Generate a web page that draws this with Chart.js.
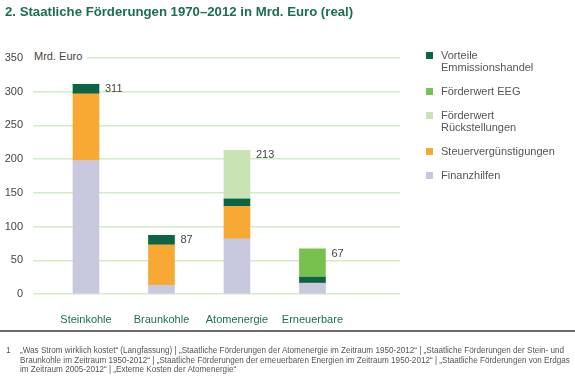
<!DOCTYPE html>
<html lang="de">
<head>
  <meta charset="UTF-8" />
  <title>Staatliche Förderungen 1970–2012</title>
  <script src="https://cdn.jsdelivr.net/npm/chart.js"></script>
  <style>
    body {
      margin: 0;
      font-family: "Liberation Sans", Arial, sans-serif;
      background: white;
    }
    #wrap {
      position: relative;
      width: 575px;
      height: 384px;
      overflow: hidden;
    }
    #wrap canvas {
      position: absolute;
      left: 0;
      top: 0;
    }
    h1 {
      position: absolute;
      left: 5px;
      top: 4px;
      margin: 0;
      font-size: 13.2px;
      font-weight: bold;
      color: #1b6e4f;
      white-space: nowrap;
    }
    .einheit {
      position: absolute;
      left: 33px;
      top: 49px;
      width: 53px;
      height: 14px;
      line-height: 14px;
      padding-left: 1px;
      background: white;
      font-size: 11px;
      color: #444;
    }
    #legende {
      position: absolute;
      left: 426px;
      top: 49px;
      font-size: 11px;
      color: #555;
    }
    .item {
      position: relative;
      padding-left: 15px;
      line-height: 12px;
      margin-bottom: 12px;
    }
    .item span {
      position: absolute;
      left: 0;
      top: 3px;
      width: 7px;
      height: 7px;
    }
    .linie {
      position: absolute;
      left: 0;
      top: 330px;
      width: 575px;
      height: 2px;
      background: #6a6a6a;
    }
    .fussnote {
      position: absolute;
      left: 6px;
      top: 346px;
      font-size: 8.15px;
      line-height: 9.7px;
      color: #555;
      white-space: nowrap;
    }
    .fussnote .nr { position: absolute; left: 0; top: 0; }
    .fussnote .txt { margin-left: 14px; }
  </style>
</head>
<body>
  <div id="wrap">
    <canvas id="grafik" width="575" height="384"></canvas>
    <h1>2. Staatliche Förderungen 1970–2012 in Mrd. Euro (real)</h1>
    <div class="einheit">Mrd. Euro</div>
    <div id="legende"></div>
    <div class="linie"></div>
    <div class="fussnote">
      <div class="nr">1</div>
      <div class="txt">„Was Strom wirklich kostet“ (Langfassung) | „Staatliche Förderungen der Atomenergie im Zeitraum 1950-2012“ | „Staatliche Förderungen der Stein- und<br>Braunkohle im Zeitraum 1950-2012“ | „Staatliche Förderungen der erneuerbaren Energien im Zeitraum 1950-2012“ | „Staatliche Förderungen von Erdgas<br>im Zeitraum 2005-2012“ | „Externe Kosten der Atomenergie“</div>
    </div>
  </div>

  <script>
    const kategorien = ["Steinkohle", "Braunkohle", "Atomenergie", "Erneuerbare"];
    const finanzhilfen = [198, 13, 82, 16];
    const steuer = [99, 60, 48, 0];
    const emissionshandel = [14, 14, 11, 9];
    const rueckstellungen = [0, 0, 72, 0];
    const eeg = [0, 0, 0, 42];
    const summen = [311, 87, 213, 67];
    const yTicks = [0, 50, 100, 150, 200, 250, 300, 350];

    const gruen = "#1e7050";

    // Datensätze von unten nach oben gestapelt
    const reihen = [
      { label: "Finanzhilfen", werte: finanzhilfen, farbe: "#c8c9df" },
      { label: "Steuervergünstigungen", werte: steuer, farbe: "#f8a933" },
      { label: "Vorteile Emmissionshandel", werte: emissionshandel, farbe: "#0b6446" },
      { label: "Förderwert Rückstellungen", werte: rueckstellungen, farbe: "#c9e3b4" },
      { label: "Förderwert EEG", werte: eeg, farbe: "#79c14e" }
    ];
    // Reihenfolge in der Legende (mit Zeilenumbruch)
    const legendeText = [
      ["Vorteile", "Emmissionshandel"],
      ["Förderwert EEG"],
      ["Förderwert", "Rückstellungen"],
      ["Steuervergünstigungen"],
      ["Finanzhilfen"]
    ];
    const legendeReihe = [2, 4, 3, 1, 0];

    const legende = document.getElementById("legende");
    legendeReihe.forEach((r, i) => {
      const div = document.createElement("div");
      div.className = "item";
      div.innerHTML = '<span style="background:' + reihen[r].farbe + '"></span>' + legendeText[i].join("<br>");
      legende.appendChild(div);
    });

    const summenPlugin = {
      id: "summen",
      afterDatasetsDraw(chart) {
        const ctx = chart.ctx;
        ctx.save();
        ctx.font = "11px 'Liberation Sans', Arial, sans-serif";
        ctx.fillStyle = "#444";
        ctx.textBaseline = "middle";
        ctx.textAlign = "left";
        summen.forEach((s, i) => {
          let oben = null;
          chart.data.datasets.forEach((ds, d) => {
            if (ds.data[i].y > 0) oben = chart.getDatasetMeta(d).data[i];
          });
          if (oben) ctx.fillText(s, oben.x + oben.width / 2 + 6, oben.y + 5);
        });
        ctx.restore();
      }
    };

    new Chart(document.getElementById("grafik"), {
      type: "bar",
      data: {
        datasets: reihen.map(r => ({
          label: r.label,
          data: r.werte.map((v, i) => ({ x: i, y: v })),
          backgroundColor: r.farbe,
          borderWidth: 0,
          barThickness: 26
        }))
      },
      options: {
        responsive: false,
        animation: false,
        layout: { padding: { top: 58, right: 175, left: 0, bottom: 0 } },
        plugins: {
          legend: { display: false },
          tooltip: { enabled: false }
        },
        scales: {
          x: {
            type: "linear",
            stacked: true,
            offset: false,
            min: -0.702,
            max: 4.16,
            grid: { display: false },
            border: { display: false },
            afterFit(s) { s.height = 90; },
            afterBuildTicks(s) { s.ticks = kategorien.map((k, i) => ({ value: i })); },
            ticks: {
              autoSkip: false,
              maxRotation: 0,
              padding: 11,
              color: gruen,
              font: { family: "'Liberation Sans', Arial, sans-serif", size: 11 },
              callback: v => kategorien[v] || ""
            }
          },
          y: {
            stacked: true,
            min: 0,
            max: 350,
            afterFit(s) { s.width = 33; },
            afterBuildTicks(s) { s.ticks = yTicks.map(v => ({ value: v })); },
            grid: { color: "#d5eac6", lineWidth: 1.5, drawTicks: false },
            border: { display: false },
            ticks: {
              padding: 10,
              color: "#444",
              font: { family: "'Liberation Sans', Arial, sans-serif", size: 11 }
            }
          }
        }
      },
      plugins: [summenPlugin]
    });
  </script>
</body>
</html>
